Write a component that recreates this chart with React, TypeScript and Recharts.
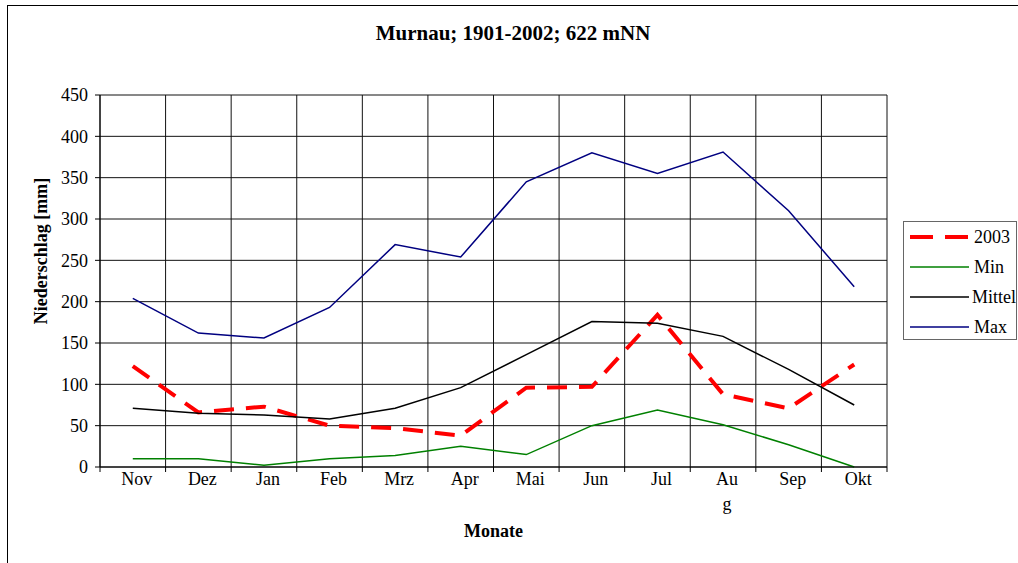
import React from "react";
import {
  LineChart,
  Line,
  XAxis,
  YAxis,
  CartesianGrid,
  Legend,
  Label,
} from "recharts";

const months = ["Nov", "Dez", "Jan", "Feb", "Mrz", "Apr", "Mai", "Jun", "Jul", "Aug", "Sep", "Okt"];
// Excel wrapped this one label in two lines
const wrappedLabels: Record<string, string[]> = { Aug: ["Au", "g"] };

const y2003 = [122, 66, 73, 50, 47, 38, 96, 97, 184, 88, 71, 124];
const yMin = [10, 10, 2, 10, 14, 25, 15, 50, 69, 51, 27, 0];
const yMittel = [71, 65, 63, 58, 71, 96, 136, 176, 174, 158, 118, 75];
const yMax = [204, 162, 156, 193, 269, 254, 345, 380, 355, 381, 310, 218];

const yTicks = [0, 50, 100, 150, 200, 250, 300, 350, 400, 450];

const series = [
  { key: "y2003", name: "2003", color: "#ff0000", width: 4, dash: "20 12" },
  { key: "min", name: "Min", color: "#008000", width: 1.5, dash: undefined },
  { key: "mittel", name: "Mittel", color: "#000000", width: 1.5, dash: undefined },
  { key: "max", name: "Max", color: "#000080", width: 1.5, dash: undefined },
];

const data = months.map((month, i) => ({
  month,
  y2003: y2003[i],
  min: yMin[i],
  mittel: yMittel[i],
  max: yMax[i],
}));

const W = 1018;
const H = 563;
const margin = { top: 95, right: 131, bottom: 21, left: 40 };
const Y_AXIS_W = 60;
const X_AXIS_H = 75;
const PLOT_W = W - margin.left - margin.right - Y_AXIS_W;
const STEP = PLOT_W / months.length;

const FONT = '"Liberation Serif", "Times New Roman", serif';

function MonthTick(props: any) {
  const { x, y, payload, index } = props;
  const lines = wrappedLabels[payload.value] ?? [payload.value];
  const left = x - STEP / 2;
  return (
    <g>
      <line x1={left} x2={left} y1={y} y2={y + 5} stroke="#000" />
      {index === months.length - 1 && (
        <line x1={left + STEP} x2={left + STEP} y1={y} y2={y + 5} stroke="#000" />
      )}
      <text x={x + 4} y={y + 18} textAnchor="middle" fontSize={18} fill="#000" fontFamily={FONT}>
        {lines.map((l: string, i: number) => (
          <tspan key={i} x={x + 4} dy={i === 0 ? 0 : 25}>
            {l}
          </tspan>
        ))}
      </text>
    </g>
  );
}

function renderLegend() {
  return (
    <div
      style={{
        width: 114,
        height: 119,
        border: "1.5px solid #666",
        background: "#fff",
        fontFamily: FONT,
        fontSize: 18,
        boxSizing: "border-box",
        paddingTop: 0,
        whiteSpace: "nowrap",
      }}
    >
      {series.map((s) => (
        <div key={s.key} style={{ height: 30, display: "flex", alignItems: "center" }}>
          <svg width={64} height={10} style={{ marginLeft: 6 }}>
            <line
              x1={0}
              x2={59}
              y1={5}
              y2={5}
              stroke={s.color}
              strokeWidth={s.width}
              strokeDasharray={s.dash ? "23 12" : undefined}
            />
          </svg>
          <span>{s.name}</span>
        </div>
      ))}
    </div>
  );
}

export default function App() {
  return (
    <div
      style={{
        position: "absolute",
        left: 0,
        top: 0,
        width: W,
        height: H,
        overflow: "hidden",
        background: "#fff",
        fontFamily: FONT,
      }}
    >
      <div
        style={{
          position: "absolute",
          left: 7,
          top: 5,
          width: 1100,
          height: 700,
          border: "1.5px solid #000",
        }}
      />
      <div
        style={{
          position: "absolute",
          left: 313,
          top: 21,
          width: 400,
          textAlign: "center",
          fontWeight: "bold",
          fontSize: 21,
          color: "#000",
        }}
      >
        Murnau; 1901-2002; 622 mNN
      </div>
      <div style={{ position: "absolute", left: 0, top: 0 }}>
        <LineChart width={W} height={H} data={data} margin={margin}>
          <CartesianGrid
            stroke="#111"
            strokeWidth={1}
            verticalCoordinatesGenerator={({ offset }: any) =>
              Array.from({ length: months.length + 1 }, (_, i) => offset.left + (i * offset.width) / months.length)
            }
          />
          <XAxis
            dataKey="month"
            interval={0}
            height={X_AXIS_H}
            padding={{ left: STEP / 2, right: STEP / 2 }}
            tickLine={false}
            tickSize={0}
            tickMargin={0}
            axisLine={{ stroke: "#000" }}
            tick={<MonthTick />}
          >
            <Label
              value="Monate"
              position="insideBottom"
              offset={5}
              style={{ fontWeight: "bold", fontSize: 18, fill: "#000", fontFamily: FONT }}
            />
          </XAxis>
          <YAxis
            width={Y_AXIS_W}
            domain={[0, 450]}
            ticks={yTicks}
            tickSize={5}
            tickMargin={7}
            axisLine={{ stroke: "#000" }}
            tickLine={{ stroke: "#000" }}
            tick={{ fontSize: 18, fill: "#000", fontFamily: FONT }}
          >
            <Label
              content={({ viewBox }: any) => (
                <text
                  transform={`translate(${viewBox.x + 7}, ${viewBox.y + viewBox.height / 2 - 30}) rotate(-90)`}
                  textAnchor="middle"
                  fontWeight="bold"
                  fontSize={18}
                  fill="#000"
                  fontFamily={FONT}
                >
                  Niederschlag [mm]
                </text>
              )}
            />
          </YAxis>
          <Legend
            layout="vertical"
            align="center"
            verticalAlign="middle"
            content={renderLegend}
            wrapperStyle={{ left: 903, top: 221, width: 115, height: 120 }}
          />
          {series.map((s) => (
            <Line
              key={s.key}
              type="linear"
              dataKey={s.key}
              name={s.name}
              stroke={s.color}
              strokeWidth={s.width}
              strokeDasharray={s.dash}
              dot={false}
              activeDot={false}
              isAnimationActive={false}
            />
          ))}
        </LineChart>
      </div>
    </div>
  );
}
